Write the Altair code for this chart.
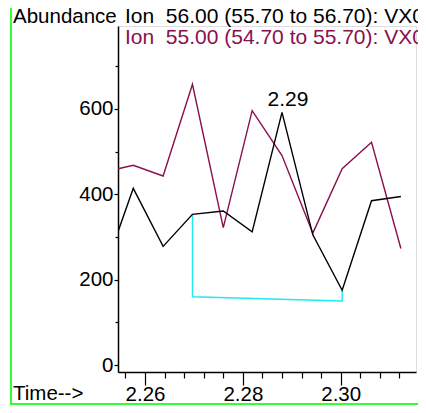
import altair as alt
import pandas as pd

# ---- data ----
time = [2.2545, 2.2576, 2.2637, 2.2697, 2.2760, 2.2819, 2.2880, 2.2943, 2.3003, 2.3063, 2.3123]
ion56 = [313, 414, 278, 353, 361, 312, 592, 305, 175, 385, 395]
ion55 = [460, 468, 443, 658, 322, 596, 491, 309, 460, 522, 273]
base_time = [2.2697, 2.2697, 2.3003, 2.3003]
base_abund = [353, 160, 150, 175]
peak_label = ["2.29"]
x_major = [2.26, 2.28, 2.30]
x_minor = [2.256, 2.264, 2.268, 2.272, 2.276, 2.284, 2.288, 2.292, 2.296, 2.304, 2.308, 2.312]
y_major = [0, 200, 400, 600]
y_minor = [100, 300, 500, 700]
header_left = "Abundance"
legend_56 = "Ion\u00a0\u00a056.00 (55.70 to 56.70): VX0"
legend_55 = "Ion\u00a0\u00a055.00 (54.70 to 55.70): VX0"
x_title = "Time-->"

FONT = "Liberation Sans"
MAROON = "#8A0F4F"
CYAN = "#1EEAF2"
GREEN = "#33FF33"

df56 = pd.DataFrame({"t": time, "a": ion56})
df55 = pd.DataFrame({"t": time, "a": ion55})
dfb = pd.DataFrame({"t": base_time, "a": base_abund, "i": list(range(len(base_time)))})
dfp = pd.DataFrame({"t": [time[6]], "a": [ion56[6]], "lab": peak_label})
one = pd.DataFrame({"k": [0]})

xs = alt.Scale(domain=[2.25448, 2.31539], nice=False, zero=False)
ys = alt.Scale(domain=[-16.4, 794.5], nice=False, zero=False)

major_x = alt.Axis(values=x_major, format=".2f", tickSize=13, labelPadding=15,
                   labelBaseline="alphabetic", title=None,
                   orient="bottom", grid=False, labelFontSize=20.5, labelFont=FONT,
                   labelColor="black", domainColor="black", domainWidth=1.5,
                   tickColor="black", tickWidth=1.2, labelFlush=False)
minor_x = alt.Axis(values=x_minor, tickSize=6, labels=False, domain=False, title=None,
                   orient="bottom", grid=False, tickColor="black", tickWidth=1.2)
major_y = alt.Axis(values=y_major, format="d", tickSize=4, labelPadding=1, title=None,
                   orient="left", grid=False, labelFontSize=20.5, labelFont=FONT,
                   labelColor="black", domainColor="black", domainWidth=1.5,
                   tickColor="black", tickWidth=1.2)
minor_y = alt.Axis(values=y_minor, tickSize=3, labels=False, domain=False, title=None,
                   orient="left", grid=False, tickColor="black", tickWidth=1.2)

maroon_line = alt.Chart(df55).mark_line(color=MAROON, strokeWidth=1.4, clip=True).encode(
    x=alt.X("t:Q", scale=xs, axis=minor_x),
    y=alt.Y("a:Q", scale=ys, axis=minor_y),
)
cyan_line = alt.Chart(dfb).mark_line(color=CYAN, strokeWidth=1.4, clip=True).encode(
    x=alt.X("t:Q", scale=xs, axis=None),
    y=alt.Y("a:Q", scale=ys, axis=None),
    order="i:Q",
)
black_line = alt.Chart(df56).mark_line(color="black", strokeWidth=1.4, clip=True).encode(
    x=alt.X("t:Q", scale=xs, axis=major_x),
    y=alt.Y("a:Q", scale=ys, axis=major_y),
)
peak = alt.Chart(dfp).mark_text(font=FONT, fontSize=21, color="black", align="center",
                                baseline="alphabetic", dx=6, dy=-6).encode(
    x=alt.X("t:Q", scale=xs, axis=None),
    y=alt.Y("a:Q", scale=ys, axis=None),
    text="lab:N",
)


def label(txt, x, y, color, size):
    return alt.Chart(one).mark_text(font=FONT, fontSize=size, color=color, align="left",
                                    baseline="alphabetic").encode(
        x=alt.value(x), y=alt.value(y), text=alt.value(txt))


def rule(x, x2, y, y2):
    return alt.Chart(one).mark_rule(color=GREEN, strokeWidth=2).encode(
        x=alt.value(x), x2=alt.value(x2), y=alt.value(y), y2=alt.value(y2))


chart = alt.layer(
    rule(-107, -107, -18, 379),
    rule(-107, 300, 378, 378),
    maroon_line,
    cyan_line,
    black_line,
    peak,
    label(header_left, -105, -3, "black", 20.5),
    label(legend_56, 7, -3, "black", 21),
    label(legend_55, 7, 18, MAROON, 21),
    label(x_title, -105, 374, "black", 20.5),
).resolve_axis(x="independent", y="independent").properties(
    width=298, height=346,
    autosize=alt.AutoSizeParams(type="none"),
    padding={"left": 110, "top": 18, "right": 2, "bottom": 33},
).configure_view(stroke=None).configure(background="white")

chart.save("out.html", embed_options={"renderer": "svg", "actions": False})
